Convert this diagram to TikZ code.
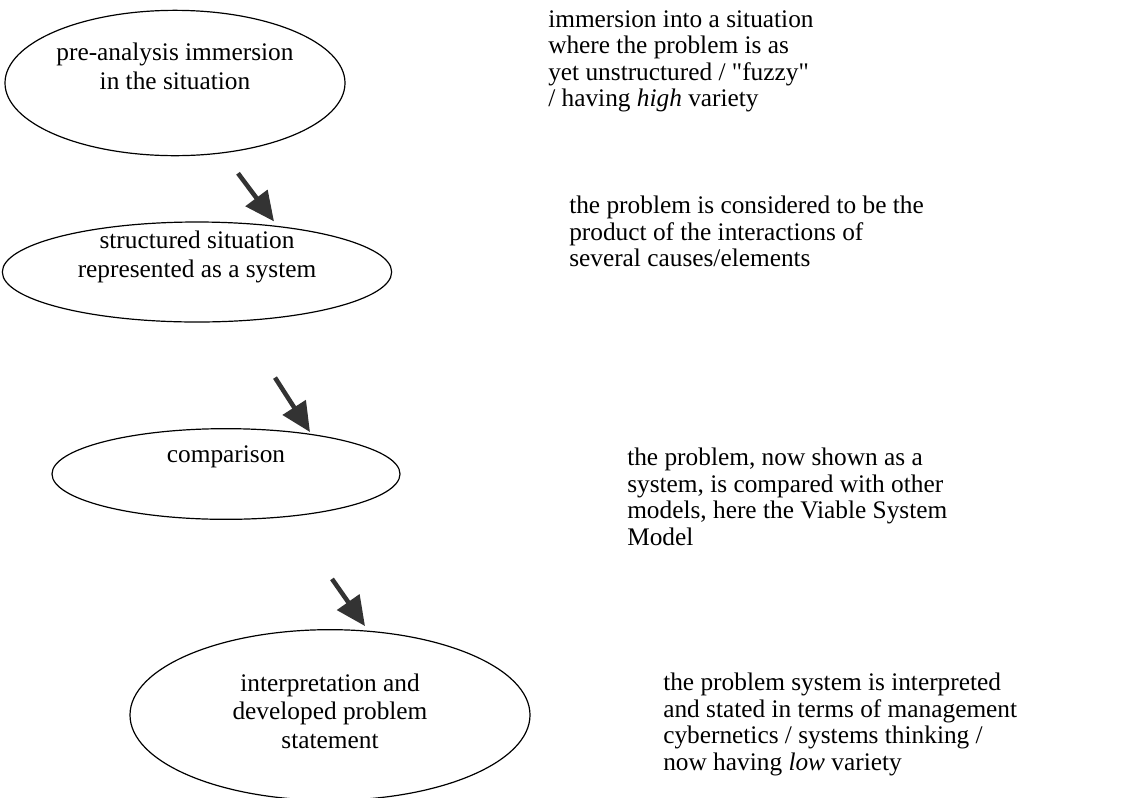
\documentclass[tikz,border=0pt]{standalone}
\usepackage{fontspec}
\setmainfont{Liberation Serif}
\usetikzlibrary{positioning,calc,arrows.meta,shapes.geometric}
\tikzset{
	stage/.style={ellipse, draw=black, line width=0.9pt, inner sep=0pt},
	stagetext/.style={align=center, inner sep=0pt, font=\fontsize{19}{21.5}\selectfont},
	note/.style={align=left, anchor=north west, inner sep=0pt, font=\fontsize{19}{19.9}\selectfont},
	flow/.style={draw=black!80, line width=3.4pt, -{Triangle[length=22pt,width=20pt]}}
}

\begin{document}
\begin{tikzpicture}[x=0.75pt,y=-0.75pt]
	\useasboundingbox (0,0) rectangle (1124,797);
	% the four stages
	\node[stage, minimum width=255pt, minimum height=109pt] (e1) at (175,83) {};
	\node[stage, minimum width=292pt, minimum height=75pt] (e2) at (197,272) {};
	\node[stage, minimum width=261pt, minimum height=68pt] (e3) at (226,474) {};
	\node[stage, minimum width=300pt, minimum height=128pt] (e4) at (330,715) {};
	
	\node[stagetext] (t1) at (175,66) {pre-analysis immersion\\in the situation};
	\node[stagetext] (t2) at (197,257) {structured situation\\represented as a system};
	\node[stagetext] (t3) at (226,457) {comparison};
	\node[stagetext] (t4) at (330,711) {interpretation and\\developed problem\\statement};
	
	% notes on the right
	\node[note] (n1) at (548,10) {immersion into a situation\\where the problem is as\\yet unstructured / \textquotedbl fuzzy\textquotedbl\\/ having \textit{high} variety};
	\node[note] (n2) at (569,196) {the problem is considered to be the\\product of the interactions of\\several causes/elements};
	\node[note] (n3) at (627,448) {the problem, now shown as a\\system, is compared with other\\models, here the Viable System\\Model};
	\node[note] (n4) at (663,673) {the problem system is interpreted\\and stated in terms of management\\cybernetics / systems thinking /\\now having \textit{low} variety};
	
	% arrows
	\draw[flow] ($(e1.south)+(63,17)$) -- ($(e2.north)+(77,0)$);
	\draw[flow] ($(e2.south)+(78,55)$) -- ($(e3.north)+(84,4)$);
	\draw[flow] ($(e3.south)+(106,59)$) -- ($(e4.north)+(35,-3)$);
\end{tikzpicture}
\end{document}
